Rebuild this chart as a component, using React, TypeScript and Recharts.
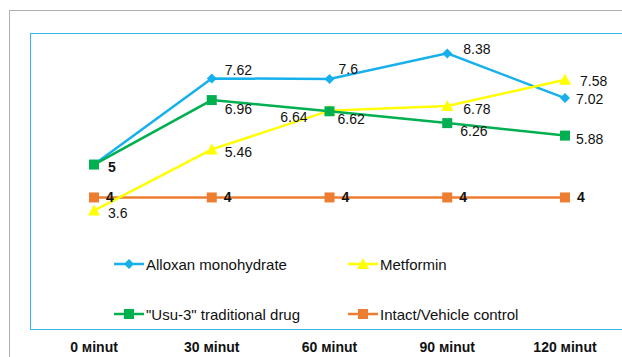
import React from "react";
import { LineChart, Line, XAxis, YAxis, Legend } from "recharts";

const times = ["0 мinut", "30 мinut", "60 мinut", "90 мinut", "120 мinut"];
const alloxan = [5, 7.62, 7.6, 8.38, 7.02];
const metformin = [3.6, 5.46, 6.64, 6.78, 7.58];
const usu3 = [5, 6.96, 6.62, 6.26, 5.88];
const intact = [4, 4, 4, 4, 4];

const data = times.map((t, i) => ({
  t,
  alloxan: alloxan[i],
  metformin: metformin[i],
  usu3: usu3[i],
  intact: intact[i],
}));

const FONT = "'Liberation Sans', Arial, sans-serif";

// label offsets [dx, dy, anchor, bold] per point, null = not drawn
const alloxanOff: any[] = [null, [13, -8], [9, -10], [16, -4], [11, 1]];
const metforminOff: any[] = [[14, 2], [13, 3], [-22, 6, "end"], [16, 3], [15, 1]];
const usuOff: any[] = [[14, 2, "start", true], [13, 9], [8, 8], [13, 8], [11, 3]];
const intactOff: any[] = [[12, 0, "start", true], [12, 0, "start", true], [12, 0, "start", true], [12, 0, "start", true], [12, 0, "start", true]];

const makeLabel = (offs: any[]) => (p: any) => {
  const o = offs[p.index];
  if (!o) return null;
  return (
    <text
      key={p.index}
      x={p.x + o[0]}
      y={p.y + o[1]}
      textAnchor={o[2] || "start"}
      dominantBaseline="central"
      fontFamily={FONT}
      fontSize={14}
      fontWeight={o[3] ? "bold" : "normal"}
      fill="#111"
    >
      {p.value}
    </text>
  );
};

const shape = (kind: string, cx: number, cy: number, color: string, k?: any) => {
  if (kind === "diamond")
    return <path key={k} d={`M${cx},${cy - 5}L${cx + 5},${cy}L${cx},${cy + 5}L${cx - 5},${cy}Z`} fill={color} />;
  if (kind === "triangle")
    return <path key={k} d={`M${cx},${cy - 6}L${cx + 6},${cy + 5}L${cx - 6},${cy + 5}Z`} fill={color} />;
  return <rect key={k} x={cx - 5} y={cy - 5} width={10} height={10} fill={color} />;
};

const makeDot = (kind: string, color: string) => (p: any) => shape(kind, p.cx, p.cy, color, p.index);

const series = [
  { key: "alloxan", name: "Alloxan monohydrate", color: "#16b0ec", kind: "diamond", offs: alloxanOff },
  { key: "metformin", name: "Metformin", color: "#ffff00", kind: "triangle", offs: metforminOff },
  { key: "usu3", name: "\"Usu-3\" traditional drug", color: "#00b050", kind: "square", offs: usuOff },
  { key: "intact", name: "Intact/Vehicle control", color: "#ed7d31", kind: "square", offs: intactOff },
];
// draw order: intact behind others
const drawOrder = ["intact", "alloxan", "metformin", "usu3"];

const LegendBox = () => (
  <div style={{ position: "relative", width: 460, height: 70, fontFamily: FONT, fontSize: 15, color: "#111" }}>
    {series.map((s, i) => (
      <div
        key={s.key}
        style={{
          position: "absolute",
          left: (i % 2) * 234,
          top: Math.floor(i / 2) * 50,
          display: "flex",
          alignItems: "center",
          whiteSpace: "nowrap",
          height: 20,
        }}
      >
        <svg width={30} height={14} style={{ marginRight: 2 }}>
          <line x1={0} y1={7} x2={30} y2={7} stroke={s.color} strokeWidth={2.5} />
          {shape(s.kind, 15, 7, s.color)}
        </svg>
        <span>{s.name}</span>
      </div>
    ))}
  </div>
);

const Tick = (p: any) => (
  <text
    x={p.x}
    y={347}
    textAnchor="middle"
    dominantBaseline="central"
    fontFamily={FONT}
    fontSize={14}
    fontWeight="bold"
    fill="#111"
  >
    {p.payload.value}
  </text>
);

export default function App() {
  return (
    <div style={{ position: "absolute", left: 0, top: 0, width: 622, height: 357, background: "#fff", overflow: "hidden" }}>
      <div style={{ position: "absolute", left: 9, top: 10, width: 640, height: 400, border: "1.5px solid #b0b0b0" }} />
      <div style={{ position: "absolute", left: 30, top: 33, width: 640, height: 295, border: "1px solid #33b5ea" }} />
      <div style={{ position: "absolute", left: 0, top: 0 }}>
        <LineChart width={622} height={357} data={data} margin={{ top: 33, right: 0, left: 30, bottom: 0 }}>
          <XAxis
            dataKey="t"
            scale="point"
            padding={{ left: 64, right: 57 }}
            height={28}
            axisLine={false}
            tickLine={false}
            tick={<Tick />}
            interval={0}
          />
          <YAxis hide domain={[0, 9]} />
          <Legend
            layout="vertical"
            align="center"
            verticalAlign="middle"
            content={<LegendBox />}
            wrapperStyle={{ left: 114, top: 254, width: 460, height: 70 }}
          />
          {drawOrder.map((k) => {
            const s = series.find((x) => x.key === k)!;
            return (
              <Line
                key={s.key}
                dataKey={s.key}
                name={s.name}
                type="linear"
                stroke={s.color}
                strokeWidth={2.5}
                dot={makeDot(s.kind, s.color)}
                activeDot={false}
                label={makeLabel(s.offs)}
                isAnimationActive={false}
              />
            );
          })}
        </LineChart>
      </div>
    </div>
  );
}
